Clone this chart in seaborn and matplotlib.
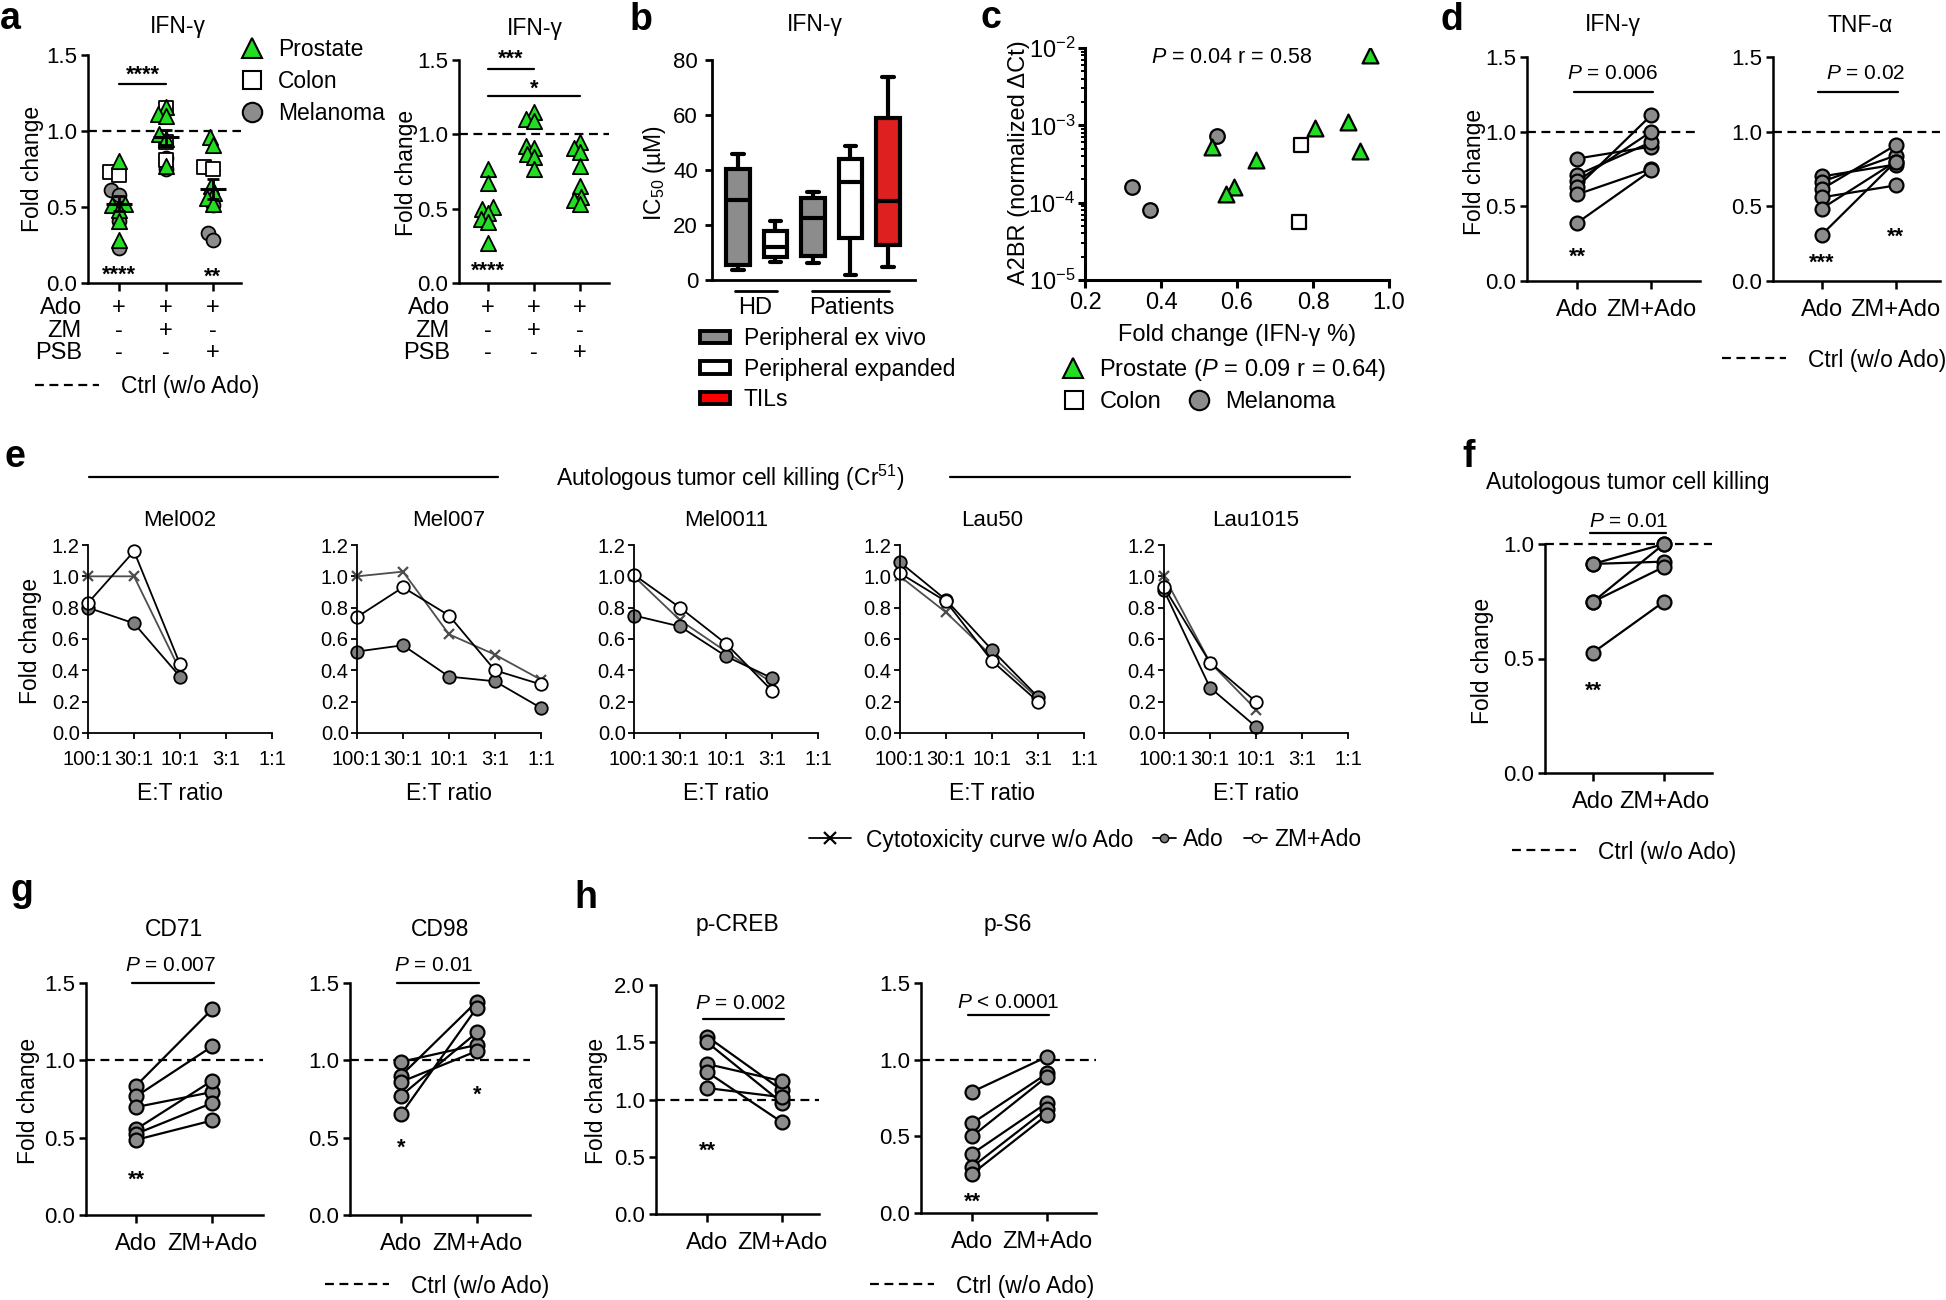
import numpy as np
import pandas as pd
import seaborn as sns
import matplotlib.pyplot as plt
from matplotlib.lines import Line2D
from matplotlib.patches import Patch
from matplotlib.transforms import blended_transform_factory, offset_copy

W, H = 1946, 1300

# ---------------- data ----------------
# a: IFN-g fold change (left: all tumour types, right: prostate only)
a_conditions = ['Ado', 'ZM+Ado', 'PSB+Ado']
a_ado_row = ['+', '+', '+']
a_zm_row = ['-', '+', '-']
a_psb_row = ['-', '-', '+']
a_prostate = [[0.80, 0.52, 0.51, 0.48, 0.41, 0.28],
              [1.16, 1.11, 1.10, 0.98, 0.95, 0.77],
              [0.96, 0.91, 0.64, 0.59, 0.56, 0.52]]
a_colon = [[0.73, 0.71], [1.15, 0.93, 0.81], [0.76, 0.75]]
a_melanoma = [[0.61, 0.58, 0.41, 0.23], [0.82, 0.75], [0.51, 0.33, 0.28]]
a_prostate_only = [[0.77, 0.67, 0.51, 0.50, 0.47, 0.43, 0.41, 0.27],
                   [1.15, 1.10, 1.09, 0.92, 0.91, 0.87, 0.85, 0.77],
                   [0.95, 0.91, 0.88, 0.79, 0.65, 0.58, 0.56, 0.53]]

# b: IC50 box summaries (min, q1, median, q3, max)
b_groups = ['HD ex vivo', 'HD expanded', 'Pt ex vivo', 'Pt expanded', 'TILs']
b_low = [3.6, 6.7, 6.3, 1.8, 4.8]
b_q1 = [5.5, 8.2, 8.7, 15.4, 12.7]
b_median = [29.0, 12.1, 22.4, 35.8, 28.8]
b_q3 = [40.4, 17.8, 29.7, 44.0, 58.8]
b_high = [45.7, 21.5, 32.1, 48.7, 73.9]
b_legend = ['Peripheral ex vivo', 'Peripheral expanded', 'TILs']

# c: A2BR expression vs fold change
c_prostate_fc = [0.951, 0.892, 0.805, 0.923, 0.535, 0.651, 0.592, 0.572]
c_prostate_a2br = [8.2e-3, 1.12e-3, 9.2e-4, 4.6e-4, 5.3e-4, 3.6e-4, 1.6e-4, 1.3e-4]
c_colon_fc = [0.768, 0.764]
c_colon_a2br = [5.6e-4, 5.7e-5]
c_mel_fc = [0.323, 0.371, 0.548]
c_mel_a2br = [1.6e-4, 8.1e-5, 7.3e-4]

# d: paired fold changes
d_ifn_ado = [0.82, 0.71, 0.67, 0.63, 0.58, 0.39]
d_ifn_zm = [0.90, 0.93, 1.00, 1.11, 0.75, 0.74]
d_tnf_ado = [0.70, 0.665, 0.615, 0.56, 0.485, 0.31]
d_tnf_zm = [0.78, 0.84, 0.91, 0.64, 0.80, 0.80]

# e: cytotoxicity curves
e_ratios = ['100:1', '30:1', '10:1', '3:1', '1:1']
e_lines = ['Mel002', 'Mel007', 'Mel0011', 'Lau50', 'Lau1015']
e_no_ado = [[1.0, 1.0, 0.40], [1.0, 1.03, 0.63, 0.50, 0.34],
            [1.0, 0.72, 0.52, 0.32], [1.0, 0.77, 0.49, 0.22], [1.0, 0.45, 0.15]]
e_ado = [[0.80, 0.70, 0.36], [0.52, 0.56, 0.36, 0.33, 0.16],
         [0.75, 0.68, 0.49, 0.35], [1.09, 0.85, 0.53, 0.23], [0.91, 0.29, 0.04]]
e_zm = [[0.83, 1.16, 0.44], [0.74, 0.93, 0.75, 0.40, 0.31],
        [1.01, 0.80, 0.57, 0.27], [1.02, 0.84, 0.46, 0.20], [0.93, 0.45, 0.20]]

# f: tumour killing
f_ado = [0.913, 0.913, 0.748, 0.748, 0.526]
f_zm = [1.0, 0.923, 1.0, 0.90, 0.748]

# g: CD71 / CD98
g_cd71_ado = [0.836, 0.767, 0.698, 0.555, 0.525, 0.486]
g_cd71_zm = [1.33, 1.09, 0.795, 0.868, 0.724, 0.611]
g_cd98_ado = [0.99, 0.90, 0.86, 0.77, 0.65]
g_cd98_zm = [1.10, 1.38, 1.06, 1.18, 1.34]

# h: p-CREB / p-S6
h_creb_ado = [1.55, 1.50, 1.31, 1.24, 1.10]
h_creb_zm = [1.08, 0.97, 1.16, 0.80, 1.02]
h_s6_ado = [0.79, 0.585, 0.50, 0.386, 0.30, 0.255]
h_s6_zm = [1.02, 0.91, 0.89, 0.72, 0.68, 0.64]

# ---------------- style ----------------
GREEN = '#22dd22'
GREY = '#8c8c8c'
RED = '#ff0000'
DASH = (0, (4, 2.5))
TICK = 16

sns.set_theme(style='ticks', rc={'axes.edgecolor': 'black', 'xtick.color': 'black',
                                 'ytick.color': 'black', 'text.color': 'black',
                                 'axes.labelcolor': 'black'})
plt.rcParams['font.family'] = ['Liberation Sans', 'DejaVu Sans']
plt.rcParams['mathtext.fontset'] = 'custom'
plt.rcParams['mathtext.rm'] = 'Liberation Sans'
plt.rcParams['mathtext.it'] = 'Liberation Sans:italic'
plt.rcParams['mathtext.bf'] = 'Liberation Sans:bold'

fig = plt.figure(figsize=(W / 100, H / 100), dpi=100)


def box(l, t, r, b):
    return [l / W, 1 - b / H, (r - l) / W, (b - t) / H]


def fpos(x, y):
    return (x / W, 1 - y / H)


def ftext(x, y, s, **kw):
    kw.setdefault('ha', 'center')
    kw.setdefault('va', 'center')
    kw.setdefault('fontsize', 16.5)
    fig.text(x / W, 1 - y / H, s, **kw)


def style(ax, lw=1.8, size=TICK, xlen=5.5, ylen=5, xpad=3, ypad=3):
    sns.despine(ax=ax)
    for s in ('left', 'bottom'):
        ax.spines[s].set_linewidth(lw)
    ax.tick_params(axis='both', width=lw, labelsize=size, color='black')
    ax.tick_params(axis='x', length=xlen, pad=xpad)
    ax.tick_params(axis='y', length=ylen, pad=ypad)
    ax.set_xlabel('')
    ax.set_ylabel('')


def stars(ax, x, y, s, size=15.5):
    tr = offset_copy(ax.transData, fig=fig, y=-5, units='dots')
    ax.text(x, y, s, transform=tr, ha='center', va='center', fontsize=size,
            fontweight='bold', clip_on=False)


def pbar(ax, y_bar, y_txt, x_txt, s, x0=-0.05, x1=1.03):
    ax.plot([x0, x1], [y_bar, y_bar], color='black', lw=1.6, clip_on=False)
    ax.text(x_txt, y_txt, s, ha='center', va='center', fontsize=15, clip_on=False)


def ctrl_legend(x, y):
    h = Line2D([], [], color='black', lw=1.6, ls=DASH)
    fig.legend([h], ['Ctrl (w/o Ado)'], loc='center left', bbox_to_anchor=fpos(x, y),
               frameon=False, fontsize=16.5, handlelength=2.8, handletextpad=0.95,
               borderpad=0, borderaxespad=0)


def panel_letter(x, y, s):
    fig.text(x / W, 1 - y / H, s, fontsize=27, fontweight='bold', ha='left', va='baseline')


# ---------------- panel a ----------------
def swarm(ax, groups, marker, face, layout_size):
    # swarm laid out with small markers so the groups stay as tight as in the original
    n0 = len(ax.collections)
    df = pd.DataFrame({'cond': [a_conditions[i] for i, g in enumerate(groups) for _ in g],
                       'fold': [v for g in groups for v in g]})
    sns.swarmplot(data=df, x='cond', y='fold', order=a_conditions, marker=marker,
                  color=face, edgecolor='black', linewidth=1.3, size=layout_size,
                  ax=ax, zorder=3)
    return ax.collections[n0:]


def freeze(colls, size):
    fig.canvas.draw()
    for c in colls:
        if 'draw' in c.__dict__:
            del c.draw
        c.set_sizes([size ** 2])


def sign_rows(ax, label_x):
    tr = blended_transform_factory(ax.transData, fig.transFigure)
    for name, signs, y in [('Ado', a_ado_row, 308), ('ZM', a_zm_row, 331),
                           ('PSB', a_psb_row, 353)]:
        ftext(label_x, y, name, ha='right', fontsize=17)
        for i, s in enumerate(signs):
            ax.text(i, 1 - y / H, s, transform=tr, ha='center', va='center', fontsize=17)


axa1 = fig.add_axes(box(88, 55, 241, 283))
mel_pts = swarm(axa1, a_melanoma, 'o', GREY, 5)
col_pts = swarm(axa1, a_colon, 's', 'white', 5)
pro_pts = swarm(axa1, a_prostate, '^', GREEN, 4.5)
axa1.set_xlim(-0.66, 2.6)
axa1.set_ylim(0, 1.5)

axa2 = fig.add_axes(box(459, 60, 609, 283))
pro2_pts = swarm(axa2, a_prostate_only, '^', GREEN, 4)
axa2.set_xlim(-0.63, 2.63)
axa2.set_ylim(0, 1.5)

freeze(mel_pts, 10)
freeze(col_pts, 10)
freeze(pro_pts + pro2_pts, 11)

for i in range(3):
    vals = np.array(a_prostate[i] + a_colon[i] + a_melanoma[i])
    m = vals.mean()
    se = vals.std(ddof=1) / np.sqrt(len(vals))
    axa1.hlines(m, i - 0.27, i + 0.27, color='black', lw=2.2, zorder=6)
    axa1.errorbar(i, m, yerr=se, fmt='none', ecolor='black', elinewidth=2,
                  capsize=4.5, capthick=2, zorder=6)
axa1.axhline(1.0, color='black', lw=1.6, ls=DASH, zorder=1)
axa1.set_yticks([0, 0.5, 1.0, 1.5])
style(axa1)
axa1.set_xticks([0, 1, 2], ['', '', ''])
pbar(axa1, 1.31, 1.40, 0.5, '', x0=0, x1=1)
stars(axa1, 0.5, 1.40, '****')
stars(axa1, 0, 0.085, '****')
stars(axa1, 2, 0.07, '**')
sign_rows(axa1, 82)
ftext(178, 27, 'IFN-γ', fontsize=16.5)
ftext(32, 169, 'Fold change', rotation=90)
a_handles = [Line2D([], [], ls='none', marker='^', ms=14, mfc=GREEN, mec='black', mew=1.5),
             Line2D([], [], ls='none', marker='s', ms=13, mfc='white', mec='black', mew=1.5),
             Line2D([], [], ls='none', marker='o', ms=14, mfc=GREY, mec='black', mew=1.5)]
fig.legend(a_handles, ['Prostate', 'Colon', 'Melanoma'], loc='upper left',
           bbox_to_anchor=fpos(241, 38), frameon=False, fontsize=16.5, handlelength=1.0,
           handletextpad=0.6, labelspacing=0.4, borderpad=0, borderaxespad=0)
ctrl_legend(35, 387)

axa2.axhline(1.0, color='black', lw=1.6, ls=DASH, zorder=1)
axa2.set_yticks([0, 0.5, 1.0, 1.5])
style(axa2)
axa2.set_xticks([0, 1, 2], ['', '', ''])
pbar(axa2, 1.44, 1.54, 0.5, '', x0=0, x1=1)
stars(axa2, 0.5, 1.54, '***')
pbar(axa2, 1.26, 1.34, 1, '', x0=0, x1=2)
stars(axa2, 1, 1.34, '*')
stars(axa2, 0, 0.11, '****')
sign_rows(axa2, 450)
ftext(535, 29, 'IFN-γ', fontsize=16.5)
ftext(407, 173, 'Fold change', rotation=90)
panel_letter(0, 29, 'a')

# ---------------- panel b ----------------
axb = fig.add_axes(box(712, 60, 915, 280))
b_df = pd.DataFrame({
    'group': [g for g in b_groups for _ in range(5)],
    'ic50': [v for i in range(len(b_groups))
             for v in (b_low[i], b_q1[i], b_median[i], b_q3[i], b_high[i])]})
b_colors = [GREY, 'white', GREY, 'white', RED]
sns.boxplot(data=b_df, x='group', y='ic50', hue='group', order=b_groups,
            hue_order=b_groups, palette=b_colors, whis=(0, 100), width=0.62,
            linewidth=3, linecolor='black', legend=False, ax=axb)
axb.set_xlim(-0.69, 4.72)
axb.set_ylim(0, 80)
axb.set_yticks([0, 20, 40, 60, 80])
style(axb, lw=2, ypad=5)
axb.set_xticks([])
trb = blended_transform_factory(axb.transData, fig.transFigure)
axb.plot([-0.08, 1.04], [1 - 291 / H] * 2, color='black', lw=2, transform=trb, clip_on=False)
axb.plot([1.97, 4.03], [1 - 291 / H] * 2, color='black', lw=2, transform=trb, clip_on=False)
axb.text(0.45, 1 - 308 / H, 'HD', transform=trb, ha='center', va='center', fontsize=17)
axb.text(3.04, 1 - 308 / H, 'Patients', transform=trb, ha='center', va='center', fontsize=17)
b_handles = [Patch(facecolor=c, edgecolor='black', lw=2.8) for c in (GREY, 'white', RED)]
fig.legend(b_handles, b_legend, loc='upper left', bbox_to_anchor=fpos(700, 327),
           frameon=False, fontsize=16.5, handlelength=1.3, handleheight=0.45,
           handletextpad=0.6, labelspacing=0.33, borderpad=0, borderaxespad=0)
ftext(815, 25, 'IFN-γ', fontsize=16.5)
ftext(654, 173, 'IC$_{50}$ (µM)', rotation=90)
panel_letter(630, 30, 'b')

# ---------------- panel c ----------------
axc = fig.add_axes(box(1085, 48, 1389, 280))
sns.scatterplot(x=c_mel_fc, y=c_mel_a2br, marker='o', s=110, color=GREY,
                edgecolor='black', linewidth=1.6, ax=axc, zorder=3)
sns.scatterplot(x=c_colon_fc, y=c_colon_a2br, marker='s', s=115, color='white',
                edgecolor='black', linewidth=1.6, ax=axc, zorder=3)
sns.scatterplot(x=c_prostate_fc, y=c_prostate_a2br, marker='^', s=130, color=GREEN,
                edgecolor='black', linewidth=1.6, ax=axc, zorder=4)
axc.set_yscale('log')
axc.set_ylim(1e-5, 1e-2)
axc.set_xlim(0.2, 1.0)
axc.set_xticks([0.2, 0.4, 0.6, 0.8, 1.0])
style(axc, lw=2.2, size=17, xlen=5.5, ylen=5, ypad=2)
axc.tick_params(axis='y', which='minor', length=3, width=1.4)
axc.text(0.587, 7.6e-3, '$P$ = 0.04 r = 0.58', ha='center', va='center', fontsize=15.5)
ftext(1237, 335, 'Fold change (IFN-γ %)', fontsize=17)
ftext(1019, 163, 'A2BR (normalized ΔCt)', rotation=90, fontsize=17)
fig.legend([Line2D([], [], ls='none', marker='^', ms=14, mfc=GREEN, mec='black', mew=1.5)],
           ['Prostate ($P$ = 0.09 r = 0.64)'], loc='center left',
           bbox_to_anchor=fpos(1061, 370), frameon=False, fontsize=17, handlelength=1.0,
           handletextpad=0.6, borderpad=0, borderaxespad=0)
fig.legend([Line2D([], [], ls='none', marker='s', ms=13, mfc='white', mec='black', mew=1.5),
            Line2D([], [], ls='none', marker='o', ms=14, mfc=GREY, mec='black', mew=1.5)],
           ['Colon', 'Melanoma'], loc='center left', ncol=2,
           bbox_to_anchor=fpos(1062, 402), frameon=False, fontsize=17, handlelength=1.0,
           handletextpad=0.6, columnspacing=1.1, borderpad=0, borderaxespad=0)
panel_letter(980, 28, 'c')


# ---------------- paired panels ----------------
def paired(rect, ado, zm, ylim, yticks, xlim):
    ax = fig.add_axes(box(*rect))
    n = len(ado)
    df = pd.DataFrame({'pair': list(range(n)) * 2, 'cond': [0] * n + [1] * n,
                       'fold': list(ado) + list(zm)})
    ax.axhline(1.0, color='black', lw=1.6, ls=DASH, zorder=0, clip_on=False)
    sns.lineplot(data=df, x='cond', y='fold', units='pair', estimator=None,
                 color='black', lw=1.6, marker='o', markersize=10,
                 markerfacecolor=GREY, markeredgecolor='black', markeredgewidth=1.6,
                 clip_on=False, ax=ax)
    ax.set_xlim(*xlim)
    ax.set_ylim(*ylim)
    ax.set_yticks(yticks)
    style(ax, xlen=6, xpad=7)
    ax.set_xticks([0, 1], ['Ado', 'ZM+Ado'])
    ax.tick_params(axis='x', labelsize=17)
    return ax


axd1 = paired((1527, 57, 1700, 281), d_ifn_ado, d_ifn_zm, (0, 1.5), [0, 0.5, 1.0, 1.5], (-0.68, 1.66))
pbar(axd1, 1.268, 1.39, 0.47, '$P$ = 0.006')
stars(axd1, 0, 0.19, '**')
axd2 = paired((1773, 57, 1940, 281), d_tnf_ado, d_tnf_zm, (0, 1.5), [0, 0.5, 1.0, 1.5], (-0.66, 1.6))
pbar(axd2, 1.268, 1.39, 0.6, '$P$ = 0.02')
stars(axd2, 0, 0.155, '***')
stars(axd2, 1, 0.33, '**')
ftext(1613, 25, 'IFN-γ')
ftext(1860, 25, 'TNF-α')
ftext(1475, 172, 'Fold change', rotation=90)
ctrl_legend(1722, 360)
panel_letter(1440, 30, 'd')

axf = paired((1545, 544, 1712, 773), f_ado, f_zm, (0, 1.0), [0, 0.5, 1.0], (-0.68, 1.68))
pbar(axf, 1.048, 1.10, 0.5, '$P$ = 0.01')
stars(axf, 0, 0.377, '**')
ftext(1486, 482, 'Autologous tumor cell killing', ha='left')
ftext(1482, 661, 'Fold change', rotation=90)
ctrl_legend(1512, 852)
panel_letter(1462, 467, 'f')

axg1 = paired((86, 983, 263, 1215), g_cd71_ado, g_cd71_zm, (0, 1.5), [0, 0.5, 1.0, 1.5], (-0.66, 1.67))
pbar(axg1, 1.5, 1.61, 0.45, '$P$ = 0.007')
stars(axg1, 0, 0.26, '**')
axg2 = paired((350, 983, 530, 1215), g_cd98_ado, g_cd98_zm, (0, 1.5), [0, 0.5, 1.0, 1.5], (-0.67, 1.70))
pbar(axg2, 1.5, 1.61, 0.43, '$P$ = 0.01')
stars(axg2, 0, 0.465, '*')
stars(axg2, 1, 0.81, '*')
ftext(174, 930, 'CD71')
ftext(440, 930, 'CD98')
ftext(29, 1101, 'Fold change', rotation=90)
ctrl_legend(325, 1286)
panel_letter(10, 901, 'g')

axh1 = paired((656, 985, 819, 1214), h_creb_ado, h_creb_zm, (0, 2.0), [0, 0.5, 1.0, 1.5, 2.0], (-0.68, 1.49))
pbar(axh1, 1.70, 1.84, 0.45, '$P$ = 0.002')
stars(axh1, 0, 0.59, '**')
axh2 = paired((921, 983, 1096, 1213), h_s6_ado, h_s6_zm, (0, 1.5), [0, 0.5, 1.0, 1.5], (-0.68, 1.65))
pbar(axh2, 1.29, 1.376, 0.48, '$P$ < 0.0001')
stars(axh2, 0, 0.10, '**')
ftext(737, 925, 'p-CREB')
ftext(1008, 925, 'p-S6')
ftext(597, 1101, 'Fold change', rotation=90)
ctrl_legend(870, 1286)
panel_letter(574, 908, 'h')

# ---------------- panel e ----------------
e_lefts = [88, 357, 634, 900, 1164]
for k, name in enumerate(e_lines):
    l = e_lefts[k]
    ax = fig.add_axes(box(l, 545, l + 184, 733))
    for vals, kw in [(e_no_ado[k], dict(color='#4d4d4d', marker='x', markersize=7,
                                         markeredgewidth=1.6, markeredgecolor='#4d4d4d')),
                     (e_ado[k], dict(color='black', marker='o', markersize=9,
                                     markerfacecolor='#7f7f7f', markeredgecolor='black',
                                     markeredgewidth=1.3)),
                     (e_zm[k], dict(color='black', marker='o', markersize=9,
                                    markerfacecolor='white', markeredgecolor='black',
                                    markeredgewidth=1.3))]:
        sns.lineplot(x=np.arange(len(vals)), y=vals, lw=1.3, clip_on=False, ax=ax, **kw)
    ax.set_xlim(0, 4)
    ax.set_ylim(0, 1.2)
    ax.set_yticks(np.arange(0, 1.21, 0.2))
    style(ax, lw=1.3, size=14.5, xlen=4, ylen=4, xpad=8, ypad=2)
    ax.set_xticks(range(5), e_ratios)
    ftext(l + 92, 520, name, fontsize=16)
    ftext(l + 92, 793, 'E:T ratio')
ftext(31, 641, 'Fold change', rotation=90)
ftext(730, 478, 'Autologous tumor cell killing (Cr$^{51}$)')
fig.add_artist(Line2D([89 / W, 498 / W], [1 - 477 / H] * 2, color='black', lw=1.6))
fig.add_artist(Line2D([950 / W, 1350 / W], [1 - 477 / H] * 2, color='black', lw=1.6))
fig.legend([Line2D([], [], color='black', lw=1.3, marker='x', ms=9, mew=1.6)],
           ['Cytotoxicity curve w/o Ado'], loc='center left', bbox_to_anchor=fpos(809, 840),
           frameon=False, fontsize=16.5, handlelength=1.85, handletextpad=0.65,
           borderpad=0, borderaxespad=0)
fig.legend([Line2D([], [], color='black', lw=1.3, marker='o', ms=6, mfc='#7f7f7f', mec='black'),
            Line2D([], [], color='black', lw=1.3, marker='o', ms=6, mfc='white', mec='black')],
           ['Ado', 'ZM+Ado'], loc='center left', ncol=2, bbox_to_anchor=fpos(1153, 840),
           frameon=False, fontsize=16.5, handlelength=1.0, handletextpad=0.3,
           columnspacing=0.9, borderpad=0, borderaxespad=0)
panel_letter(4, 467, 'e')

fig.savefig('out.png', dpi=100)
